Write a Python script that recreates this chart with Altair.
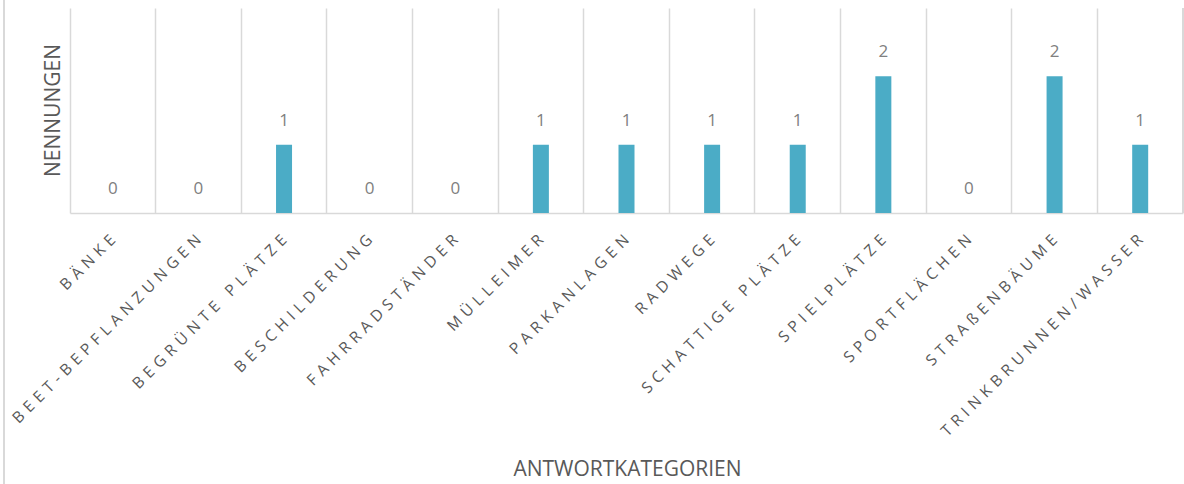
import altair as alt
import pandas as pd

# Antwortkategorien (Großschreibung) und Anzahl der Nennungen
kategorien = [
    "BÄNKE", "BEET-BEPFLANZUNGEN", "BEGRÜNTE PLÄTZE", "BESCHILDERUNG",
    "FAHRRADSTÄNDER", "MÜLLEIMER", "PARKANLAGEN", "RADWEGE",
    "SCHATTIGE PLÄTZE", "SPIELPLÄTZE", "SPORTFLÄCHEN", "STRAßENBÄUME",
    "TRINKBRUNNEN/WASSER",
]
nennungen = [0, 0, 1, 0, 0, 1, 1, 1, 1, 2, 0, 2, 1]

df = pd.DataFrame({"kategorie": kategorien, "nennungen": nennungen})

W, H = 1113, 205
GRID = "#d9d9d9"
FONT = "Open Sans"

# gesperrte Achsenbeschriftung
label_expr = "join(split(datum.label, ''), '\u2004')"

x = alt.X(
    "kategorie:N",
    sort=None,
    scale=alt.Scale(paddingInner=0, paddingOuter=0),
    axis=alt.Axis(
        title="ANTWORTKATEGORIEN",
        titleFont=FONT,
        titleFontSize=21,
        titleFontWeight="normal",
        titleColor="#595959",
        titleX=557,
        titleY=256,
        titleBaseline="middle",
        labelAngle=-45,
        labelAlign="right",
        labelBaseline="middle",
        labelPadding=24,
        labelFont=FONT,
        labelFontSize=15.6,
        labelColor="#595959",
        labelExpr=label_expr,
        labelOverlap=False,
        labelLimit=0,
        ticks=False,
        grid=True,
        gridColor=GRID,
        gridWidth=1.5,
        bandPosition=0,
        domainColor=GRID,
        domainWidth=1.5,
    ),
)

y = alt.Y(
    "nennungen:Q",
    scale=alt.Scale(domain=[0, 3], nice=False),
    axis=alt.Axis(
        title="NENNUNGEN",
        titleFont=FONT,
        titleFontSize=21,
        titleFontWeight="normal",
        titleColor="#595959",
        titleX=-17,
        titleY=102,
        titleAngle=270,
        titleBaseline="middle",
        titleAlign="center",
        labels=False,
        ticks=False,
        grid=False,
        domain=False,
    ),
)

base = alt.Chart(df)

bars = base.mark_bar(size=16, color="#4bacc6").encode(x=x, y=y)

werte = base.mark_text(
    dy=-24, baseline="middle", font=FONT, fontSize=17, color="#808080"
).encode(x=x, y=y, text="nennungen:Q")

# rechte Begrenzung der letzten Kategorie
rechts = alt.Chart(df).mark_rule(color=GRID, strokeWidth=1.5).encode(
    x=alt.value(W), y=alt.value(0), y2=alt.value(H)
)

# Rahmen des Diagrammbereichs links
rahmen = alt.Chart(df).mark_rule(color=GRID, strokeWidth=1.5).encode(
    x=alt.value(-66), y=alt.value(-8), y2=alt.value(H + 271)
)

chart = (
    alt.layer(bars, werte, rechts, rahmen)
    .properties(
        width=W,
        height=H,
        padding={"left": 70, "top": 8, "right": 1, "bottom": 271},
        autosize=alt.AutoSizeParams(type="none"),
        background="white",
    )
    .configure_view(stroke=None)
)

chart.save("out.html", embed_options={"renderer": "svg", "actions": False})
